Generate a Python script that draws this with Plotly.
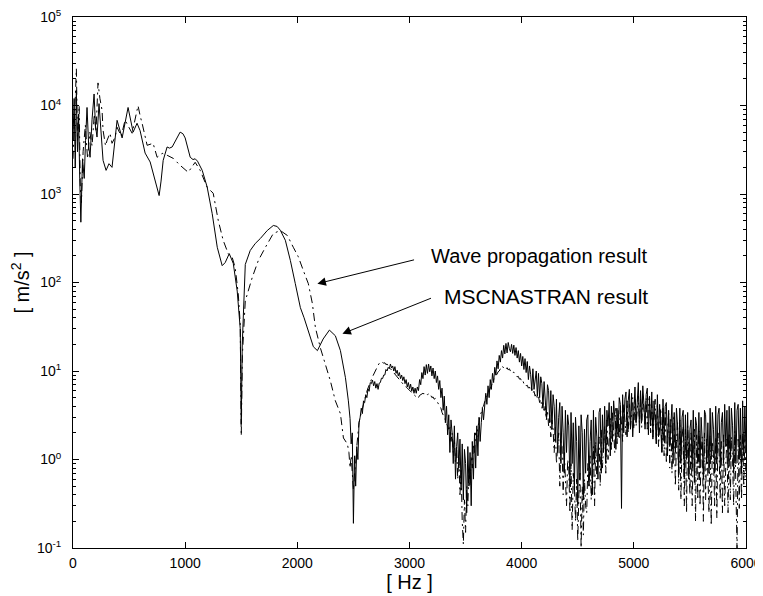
import numpy as np
import plotly.graph_objects as go

# ---------------- data ----------------
# MSCNASTRAN result (solid) - low-frequency, smooth part
msc_freq_lo = [0, 10, 20, 30, 40, 50, 60, 70, 85, 100, 112, 125, 140, 152, 170, 188, 200, 214, 232, 250,
               268, 295, 321, 348, 393, 438, 491, 536, 571, 598, 643, 688, 720, 750, 768, 785, 804, 839,
               860, 884, 920, 955, 980, 1000, 1045, 1070, 1089, 1110, 1152, 1196, 1241, 1286, 1330, 1357,
               1393, 1429, 1464, 1491, 1500, 1509, 1536, 1580, 1625, 1670, 1732, 1786, 1820, 1848, 1893,
               1938, 1982, 2027, 2060, 2089, 2115, 2143, 2179, 2230, 2286, 2339, 2384, 2429, 2455]
msc_mag_lo = [4000, 12000, 2000, 15000, 3000, 8000, 1500, 480, 2500, 1500, 4000, 9500, 3500, 2600, 7000,
              13500, 6000, 4400, 10500, 5000, 2400, 1850, 2200, 2000, 6800, 4300, 9500, 5000, 6300, 5200,
              2900, 2300, 1600, 1100, 960, 1400, 2400, 3400, 3300, 3400, 4200, 5000, 4800, 4300, 2600,
              2450, 2500, 2350, 1850, 1200, 600, 250, 155, 168, 212, 164, 80, 30, 2.5, 20, 160, 230, 276,
              314, 387, 441, 430, 390, 300, 177, 97, 52, 40, 31, 24, 18.8, 17, 23, 29, 25, 17, 8.4, 4.6]

# Wave propagation result (dash-dot) - low-frequency, smooth part
wave_freq_lo = [0, 15, 30, 40, 55, 65, 75, 90, 110, 130, 150, 170, 190, 205, 223, 240, 259, 268, 290, 304,
                330, 348, 375, 393, 430, 464, 500, 527, 571, 580, 600, 616, 661, 714, 750, 795, 839, 893,
                955, 1027, 1089, 1134, 1196, 1250, 1295, 1339, 1384, 1420, 1446, 1473, 1491, 1500, 1510,
                1536, 1598, 1652, 1714, 1786, 1848, 1911, 1964, 2009, 2054, 2098, 2134, 2161, 2205, 2250,
                2295, 2339, 2384, 2411, 2446]
wave_mag_lo = [2500, 8000, 26000, 4000, 10000, 1200, 800, 3000, 6000, 2500, 5000, 3500, 8000, 5000, 18000,
               12000, 8850, 5250, 3500, 4050, 4860, 3740, 4380, 5680, 4500, 6830, 5500, 4860, 8850, 9940,
               7500, 6310, 3550, 3740, 2600, 2880, 2740, 2530, 2110, 1760, 2280, 1850, 1190, 1020, 502,
               299, 212, 191, 147, 75, 34, 1.85, 15, 62, 114, 177, 248, 358, 387, 340, 250, 195, 136, 97,
               58, 31, 18.3, 12, 7.7, 4.6, 3.3, 1.75, 1.5]

# high-frequency, noisy part: sampled every 10 Hz from 2460 Hz to 6000 Hz
hf_start, hf_step = 2460, 10
msc_mag_hf = [
    3.9, 2.9, 1.5, 2.0, 0.19, 1.1, 0.5, 1.4, 1.0, 2.6,
    3.0, 3.8, 3.3, 4.6, 4.4, 5.4, 5.0, 6.3, 5.9, 7.4,
    7.2, 7.9, 6.8, 7.6, 6.4, 7.2, 6.2, 7.3, 7.4, 8.3,
    8.2, 9.0, 9.0, 10.4, 10.0, 11.0, 10.6, 12.0, 10.8, 11.4,
    10.0, 11.2, 9.4, 10.2, 8.8, 9.6, 8.2, 9.0, 7.8, 8.6,
    7.2, 8.0, 6.6, 7.4, 6.3, 7.1, 5.9, 6.6, 5.6, 6.4,
    5.6, 6.6, 6.0, 8.0, 7.0, 9.6, 8.2, 11.2, 9.0, 11.8,
    9.4, 12.0, 9.8, 11.4, 8.8, 10.8, 8.2, 10.0, 7.4, 8.8,
    6.2, 7.8, 5.0, 6.4, 3.6, 5.2, 2.6, 4.0, 1.9, 3.2,
    1.2, 2.8, 2.0, 0.9, 2.4, 0.6, 1.4, 2.0, 0.8, 1.7,
    0.45, 1.5, 0.35, 1.3, 0.9, 0.25, 1.4, 0.5, 1.2, 0.3,
    1.6, 0.6, 2.0, 0.8, 2.4, 1.1, 3.0, 1.6, 2.6, 3.8,
    2.8, 4.6, 5.6, 4.2, 6.8, 5.0, 8.0, 6.2, 9.4, 7.4,
    11.0, 9.0, 13.0, 10.6, 15.0, 12.6, 17.0, 14.0, 19.5, 15.6,
    20.5, 16.0, 21.0, 18.0, 16.5, 20.0, 15.8, 19.6, 15.0, 18.4,
    14.0, 17.0, 12.6, 15.8, 11.4, 14.6, 10.4, 13.8, 9.6, 12.8,
    8.0, 11.4, 9.2, 6.0, 10.6, 6.2, 8.4, 10.0, 5.2, 9.4,
    5.0, 8.6, 7.2, 3.8, 7.6, 4.6, 3.0, 7.0, 6.0, 2.6,
    6.0, 2.2, 5.4, 4.0, 1.6, 4.8, 1.2, 3.0, 4.4, 0.9,
    4.0, 2.0, 0.7, 3.6, 1.2, 3.2, 2.4, 0.5, 3.4, 0.9,
    2.6, 0.45, 3.0, 1.6, 0.3, 2.4, 0.6, 3.2, 2.0, 0.35,
    2.2, 0.7, 2.8, 3.2, 0.5, 1.6, 2.8, 0.4, 3.6, 0.9,
    3.0, 1.8, 0.6, 3.4, 3.8, 0.7, 3.2, 1.2, 4.0, 0.9,
    3.6, 2.4, 4.4, 1.1, 4.0, 1.6, 4.6, 3.0, 1.3, 3.8,
    1.8, 5.0, 4.2, 0.28, 5.4, 2.0, 4.8, 5.8, 1.8, 4.6,
    6.2, 2.2, 5.6, 1.8, 3.6, 6.6, 2.6, 5.2, 7.4, 2.0,
    6.0, 2.8, 6.8, 4.2, 2.2, 5.4, 6.4, 1.9, 5.0, 2.4,
    5.8, 1.7, 4.6, 3.0, 1.5, 5.4, 1.8, 4.2, 2.6, 1.2,
    4.8, 1.6, 4.0, 4.4, 1.1, 3.6, 1.4, 2.6, 4.2, 0.9,
    3.4, 1.2, 3.8, 2.4, 0.7, 3.8, 0.9, 3.0, 3.6, 0.6,
    3.2, 1.0, 3.4, 0.6, 2.2, 2.8, 0.8, 3.6, 0.55, 3.0,
    2.4, 0.9, 3.4, 0.8, 3.0, 1.6, 0.6, 3.6, 3.2, 0.9,
    2.6, 0.7, 3.8, 1.0, 3.4, 2.2, 0.7, 4.0, 0.9, 3.2,
    3.8, 0.8, 2.6, 3.4, 0.9, 4.2, 1.4, 3.6, 0.8, 4.0,
    1.0, 3.8, 2.4, 0.7, 4.4, 0.9, 3.6, 4.2, 1.0, 3.8,
    0.7, 4.6, 1.1, 4.0, 1.2,
]
wave_mag_hf = [
    1.2, 0.8, 1.1, 0.6, 0.45, 0.7, 0.9, 1.4, 2.0, 2.6,
    3.0, 3.4, 3.7, 4.2, 4.8, 5.3, 5.9, 6.4, 7.0, 7.4,
    8.0, 8.6, 9.2, 9.8, 10.4, 11.0, 11.6, 12.2, 12.0, 12.4,
    12.6, 12.2, 12.4, 11.8, 12.0, 11.4, 11.0, 10.6, 10.2, 9.8,
    9.4, 9.2, 8.8, 8.5, 8.2, 7.9, 7.6, 7.4, 7.1, 6.9,
    6.7, 6.6, 6.4, 6.2, 6.0, 5.8, 5.7, 5.5, 5.4, 5.2,
    5.1, 5.2, 5.0, 5.3, 5.4, 5.5, 5.6, 5.5, 5.7, 5.6,
    5.4, 5.5, 5.2, 5.3, 5.0, 5.1, 4.8, 4.9, 4.6, 4.5,
    4.2, 4.0, 3.8, 3.4, 3.2, 3.0, 2.8, 2.5, 2.4, 2.2,
    2.3, 1.6, 2.0, 1.2, 1.7, 0.9, 1.4, 0.6, 1.1, 0.4,
    0.8, 0.2, 0.11, 0.35, 0.15, 0.5, 0.3, 0.8, 0.5, 1.1,
    0.8, 1.5, 1.2, 2.0, 1.8, 2.4, 2.6, 3.2, 3.4, 3.9,
    4.0, 4.5, 4.8, 5.3, 5.6, 6.0, 6.3, 6.9, 7.3, 8.0,
    8.3, 8.9, 9.2, 9.8, 10.0, 10.6, 10.4, 11.2, 10.8, 11.0,
    10.5, 10.9, 10.3, 10.6, 10.0, 10.2, 9.6, 9.7, 9.1, 9.0,
    8.6, 8.7, 8.1, 8.2, 7.6, 7.8, 7.2, 7.3, 6.8, 6.9,
    6.4, 6.6, 6.0, 6.3, 5.6, 5.9, 5.2, 5.6, 4.9, 5.2,
    4.4, 4.8, 3.8, 4.4, 3.4, 4.0, 2.8, 3.6, 2.4, 3.2,
    1.8, 2.8, 2.2, 1.2, 2.4, 0.9, 1.4, 2.0, 0.5, 1.6,
    1.4, 0.4, 1.2, 0.6, 0.3, 1.0, 0.8, 0.25, 0.9, 0.16,
    0.7, 0.5, 0.2, 0.6, 0.12, 0.4, 0.7, 0.1, 0.5, 0.14,
    0.6, 0.3, 0.25, 0.9, 0.5, 1.1, 0.35, 0.8, 1.4, 0.3,
    1.6, 0.6, 1.2, 1.8, 0.5, 2.2, 0.8, 1.6, 2.4, 0.7,
    2.8, 1.0, 2.2, 3.0, 1.3, 3.4, 2.0, 1.2, 3.8, 1.5,
    3.6, 1.7, 4.0, 2.6, 1.6, 4.2, 3.0, 1.9, 4.6, 2.0,
    4.4, 2.2, 3.4, 5.0, 2.2, 4.8, 2.4, 3.8, 5.2, 2.6,
    4.8, 2.3, 5.4, 3.6, 2.5, 5.0, 2.2, 4.4, 5.2, 2.0,
    4.6, 1.8, 3.0, 4.8, 1.5, 4.4, 1.4, 2.8, 3.8, 1.2,
    4.0, 1.1, 3.4, 0.9, 2.2, 3.6, 0.8, 3.0, 0.7, 2.6,
    3.2, 0.5, 1.6, 2.6, 0.45, 2.8, 0.35, 1.8, 2.4, 0.3,
    2.2, 0.25, 2.4, 0.9, 0.4, 2.0, 0.3, 1.4, 2.2, 0.2,
    1.9, 0.35, 2.1, 0.3, 1.2, 1.8, 0.2, 2.0, 0.35, 1.7,
    0.6, 0.25, 1.9, 0.18, 1.6, 1.1, 0.3, 1.8, 0.22, 2.0,
    1.2, 0.35, 1.6, 0.25, 1.9, 0.3, 0.9, 1.7, 0.25, 2.0,
    0.35, 1.8, 1.0, 0.3, 2.1, 0.4, 0.1, 1.7, 0.28, 1.9,
    0.35, 2.0, 0.5, 1.9, 0.6,
]

x_tick_vals = [0, 1000, 2000, 3000, 4000, 5000, 6000]
y_tick_vals = [1e-1, 1e0, 1e1, 1e2, 1e3, 1e4, 1e5]
y_tick_text = ["10<sup>-1</sup>", "10<sup>0</sup>", "10<sup>1</sup>", "10<sup>2</sup>",
               "10<sup>3</sup>", "10<sup>4</sup>", "10<sup>5</sup>"]

label_wave = "Wave propagation result"
label_msc = "MSCNASTRAN result"

# ---------------- assemble ----------------
assert len(msc_freq_lo) == len(msc_mag_lo)
assert len(wave_freq_lo) == len(wave_mag_lo)
hf_freq = [hf_start + hf_step * i for i in range(len(msc_mag_hf))]
assert len(wave_mag_hf) == len(msc_mag_hf)

msc_f = msc_freq_lo + hf_freq
msc_m = msc_mag_lo + msc_mag_hf
wave_f = wave_freq_lo + hf_freq
wave_m = wave_mag_lo + wave_mag_hf

FONT = "Liberation Sans, Arial, Helvetica, sans-serif"

fig = go.Figure()
fig.add_trace(go.Scatter(x=wave_f, y=wave_m, mode="lines", name=label_wave,
                         line=dict(color="black", width=1, dash="8px,4px,2px,4px")))
fig.add_trace(go.Scatter(x=msc_f, y=msc_m, mode="lines", name=label_msc,
                         line=dict(color="black", width=1)))

# arrows (tip on the curves, tail near the text)
fig.add_annotation(x=2179, y=np.log10(97), ax=3054, ay=np.log10(182),
                   xref="x", yref="y", axref="x", ayref="y", text="",
                   showarrow=True, arrowhead=2, arrowsize=1.7, arrowwidth=1, arrowcolor="black")
fig.add_annotation(x=2402, y=np.log10(26.4), ax=3205, ay=np.log10(67.5),
                   xref="x", yref="y", axref="x", ayref="y", text="",
                   showarrow=True, arrowhead=2, arrowsize=1.7, arrowwidth=1, arrowcolor="black")
fig.add_annotation(x=3170, y=2.305, xref="x", yref="y", text=label_wave, showarrow=False,
                   xanchor="left", yanchor="middle", font=dict(family=FONT, size=20, color="black"))
fig.add_annotation(x=3290, y=1.84, xref="x", yref="y", text=label_msc, showarrow=False,
                   xanchor="left", yanchor="middle", font=dict(family=FONT, size=21, color="black"))

axis_common = dict(showline=True, linecolor="black", linewidth=1, mirror="ticks",
                   ticks="inside", ticklen=6, tickcolor="black", tickwidth=1,
                   showgrid=False, zeroline=False, automargin=False,
                   ticklabeloverflow="allow",
                   tickfont=dict(family=FONT, size=14, color="black"))

# the page body has an 8 px margin, so the figure is sized/margined to place the
# plot area at the reference position inside the 763x596 window
fig.update_layout(
    width=755, height=588, autosize=False,
    margin=dict(l=65, r=17, t=9, b=48),
    paper_bgcolor="white", plot_bgcolor="white",
    showlegend=False,
    font=dict(family=FONT, color="black"),
    xaxis=dict(range=[0, 6000], tickmode="array", tickvals=x_tick_vals,
               title=dict(text="[ Hz ]", font=dict(family=FONT, size=20, color="black"), standoff=3),
               ticklabelstandoff=2, **axis_common),
    yaxis=dict(type="log", range=[-1, 5], tickmode="array", tickvals=y_tick_vals, ticktext=y_tick_text,
               title=dict(text="[ m/s<sup>2</sup> ]", font=dict(family=FONT, size=20, color="black"), standoff=7),
               ticklabelstandoff=8,
               minor=dict(ticks="inside", ticklen=3, tickcolor="black", dtick="D1", showgrid=False),
               **axis_common),
)

fig.write_html("out.html")
